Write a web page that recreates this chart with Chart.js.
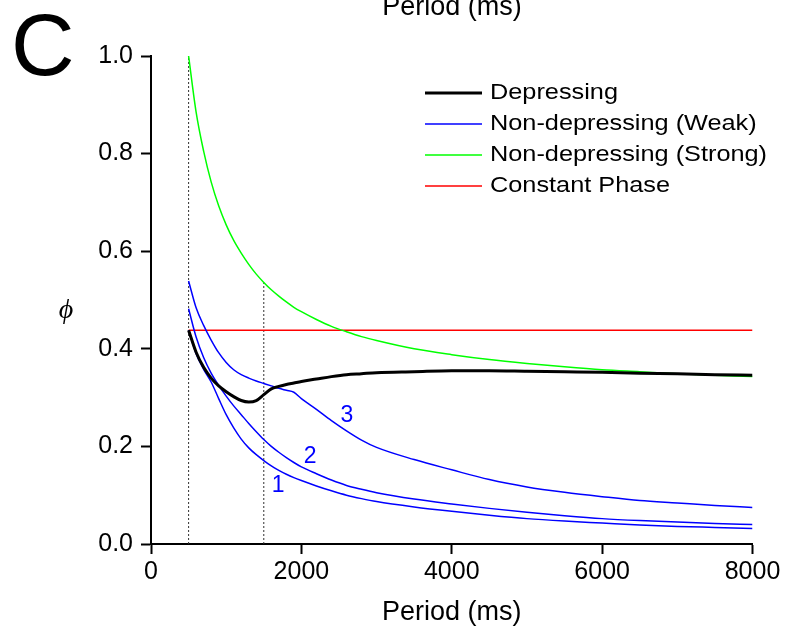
<!DOCTYPE html>
<html>
<head>
<meta charset="utf-8">
<script src="https://cdn.jsdelivr.net/npm/chart.js@4.4.1/dist/chart.umd.min.js"></script>
<style>
  html, body { margin: 0; padding: 0; background: #fff; }
  canvas { display: block; }
</style>
</head>
<body>
<canvas id="phaseChart" width="786" height="635"></canvas>
<script>
// periodos (ms) comunes a las curvas
const periods = [500, 600, 700, 800, 900, 1000, 1100, 1200, 1300, 1400, 1500, 1600, 1700, 1800, 1900,
    2000, 2200, 2400, 2600, 2800, 3000, 3500, 4000, 4500, 5000, 5500, 6000, 6500, 7000, 7500, 8000];

// fase (phi) de cada curva
const depressing = [0.438, 0.393, 0.362, 0.340, 0.324, 0.312, 0.302, 0.294, 0.291, 0.294, 0.306, 0.318, 0.323, 0.327, 0.330,
    0.333, 0.338, 0.343, 0.347, 0.349, 0.351, 0.353, 0.355, 0.355, 0.354, 0.353, 0.352, 0.350, 0.349, 0.347, 0.346];
const weak1 = [0.438, 0.390, 0.358, 0.332, 0.298, 0.265, 0.238, 0.215, 0.197, 0.183, 0.171, 0.160, 0.151, 0.143, 0.136,
    0.130, 0.119, 0.109, 0.100, 0.093, 0.087, 0.076, 0.067, 0.059, 0.052, 0.047, 0.043, 0.039, 0.036, 0.034, 0.032];
const weak2 = [0.482, 0.424, 0.382, 0.350, 0.325, 0.303, 0.283, 0.265, 0.247, 0.230, 0.214, 0.200, 0.188, 0.177, 0.167,
    0.158, 0.144, 0.131, 0.120, 0.112, 0.105, 0.092, 0.082, 0.073, 0.065, 0.058, 0.052, 0.048, 0.045, 0.042, 0.040];
const weak3 = [0.539, 0.484, 0.448, 0.418, 0.392, 0.372, 0.357, 0.347, 0.340, 0.334, 0.329, 0.324, 0.319, 0.315, 0.311,
    0.298, 0.276, 0.253, 0.232, 0.213, 0.198, 0.173, 0.152, 0.132, 0.117, 0.106, 0.097, 0.089, 0.084, 0.079, 0.075];
const strong = [1.000, 0.885, 0.805, 0.742, 0.693, 0.654, 0.622, 0.596, 0.573, 0.553, 0.536, 0.521, 0.508, 0.496, 0.485,
    0.476, 0.460, 0.446, 0.435, 0.425, 0.417, 0.400, 0.388, 0.378, 0.370, 0.363, 0.357, 0.353, 0.349, 0.346, 0.343];

// fase constante
const constantPeriods = [500, 8000];
const constantPhase = [0.438, 0.438];

// lineas punteadas verticales
const guidePeriods = [500, 1500];
const guideTops = [1.0, 0.536];

// ticks de los ejes
const xTicks = [0, 2000, 4000, 6000, 8000];
const yTicks = [0, 0.2, 0.4, 0.6, 0.8, 1.0];

// numeros de las curvas débiles
const curveNames = ['1', '2', '3'];
const namePeriods = [1692, 2118, 2607];
const namePhis = [0.119, 0.178, 0.263];

const toPoints = (xs, ys) => xs.map((x, i) => ({ x: x, y: ys[i] }));

const FONT = '"Liberation Sans", Arial, sans-serif';

// plugin para textos extra y leyenda
const decorPlugin = {
    id: 'decor',
    afterDatasetsDraw(chart) {
        const { ctx, scales: { x, y } } = chart;
        ctx.save();
        // etiquetas 1, 2, 3
        ctx.fillStyle = '#0000ff';
        ctx.font = '23px ' + FONT;
        ctx.textAlign = 'center';
        ctx.textBaseline = 'middle';
        curveNames.forEach((name, i) => {
            ctx.fillText(name, x.getPixelForValue(namePeriods[i]), y.getPixelForValue(namePhis[i]));
        });

        // leyenda
        const items = chart.data.datasets.filter(ds => ds.inLegend);
        items.forEach((ds, i) => {
            const rowY = 93 + i * 31;
            ctx.strokeStyle = ds.borderColor;
            ctx.lineWidth = ds.borderWidth;
            ctx.beginPath();
            ctx.moveTo(425, rowY);
            ctx.lineTo(482, rowY);
            ctx.stroke();
            ctx.save();
            ctx.translate(490, rowY);
            ctx.scale(1.15, 1);
            ctx.fillStyle = '#000';
            ctx.font = '22px ' + FONT;
            ctx.textAlign = 'left';
            ctx.textBaseline = 'middle';
            ctx.fillText(ds.label, 0, 0);
            ctx.restore();
        });
        ctx.restore();
    },
    afterDraw(chart) {
        const { ctx } = chart;
        ctx.save();
        ctx.fillStyle = '#000';
        // letra del panel
        ctx.font = '88px ' + FONT;
        ctx.textAlign = 'left';
        ctx.textBaseline = 'alphabetic';
        ctx.fillText('C', 11, 75);
        // titulo superior cortado
        ctx.font = '27px ' + FONT;
        ctx.textAlign = 'center';
        ctx.fillText('Period (ms)', 452, 15);
        // phi
        ctx.font = 'italic 28px "Liberation Serif", "DejaVu Serif", serif';
        ctx.fillText('ϕ', 66, 318);
        ctx.restore();
    }
};

const axisGrid = {
    drawOnChartArea: false,
    drawTicks: true,
    tickLength: 10,
    tickColor: '#000',
    tickWidth: 2
};

const chart = new Chart(document.getElementById('phaseChart'), {
    type: 'line',
    data: {
        datasets: [
            {
                label: 'Depressing',
                data: toPoints(periods, depressing),
                borderColor: '#000000',
                borderWidth: 3,
                inLegend: true
            },
            {
                label: 'Non-depressing (Weak)',
                data: toPoints(periods, weak1),
                borderColor: '#0000ff',
                borderWidth: 1.5,
                inLegend: true
            },
            {
                label: 'Non-depressing (Weak) 2',
                data: toPoints(periods, weak2),
                borderColor: '#0000ff',
                borderWidth: 1.5
            },
            {
                label: 'Non-depressing (Weak) 3',
                data: toPoints(periods, weak3),
                borderColor: '#0000ff',
                borderWidth: 1.5
            },
            {
                label: 'Non-depressing (Strong)',
                data: toPoints(periods, strong),
                borderColor: '#00ff00',
                borderWidth: 1.5,
                inLegend: true
            },
            {
                label: 'Constant Phase',
                data: toPoints(constantPeriods, constantPhase),
                borderColor: '#ff0000',
                borderWidth: 1.5,
                inLegend: true
            },
            {
                label: 'guide 500',
                data: [{ x: guidePeriods[0], y: 0 }, { x: guidePeriods[0], y: guideTops[0] }],
                borderColor: '#333333',
                borderWidth: 1,
                borderDash: [2, 2],
                cubicInterpolationMode: 'default',
                tension: 0
            },
            {
                label: 'guide 1500',
                data: [{ x: guidePeriods[1], y: 0 }, { x: guidePeriods[1], y: guideTops[1] }],
                borderColor: '#333333',
                borderWidth: 1,
                borderDash: [2, 2],
                cubicInterpolationMode: 'default',
                tension: 0
            }
        ]
    },
    options: {
        responsive: false,
        animation: false,
        events: [],
        elements: {
            point: { radius: 0 },
            line: { cubicInterpolationMode: 'monotone', fill: false }
        },
        layout: {
            padding: { top: 56, right: 33.5, bottom: 0, left: 0 }
        },
        plugins: {
            legend: { display: false },
            tooltip: { enabled: false },
            title: { display: false }
        },
        scales: {
            x: {
                type: 'linear',
                min: 0,
                max: 8000,
                afterBuildTicks: scale => { scale.ticks = xTicks.map(v => ({ value: v })); },
                afterFit: scale => { scale.height = 91; },
                grid: axisGrid,
                border: { display: true, color: '#000', width: 2 },
                ticks: {
                    color: '#000',
                    padding: 3,
                    maxRotation: 0,
                    font: { family: FONT, size: 25 },
                    callback: v => String(v)
                },
                title: {
                    display: true,
                    text: 'Period (ms)',
                    color: '#000',
                    padding: { top: 0, bottom: 6 },
                    font: { family: FONT, size: 27 }
                }
            },
            y: {
                type: 'linear',
                min: 0,
                max: 1,
                afterBuildTicks: scale => { scale.ticks = yTicks.map(v => ({ value: v })); },
                afterFit: scale => { scale.width = 151; },
                grid: axisGrid,
                border: { display: true, color: '#000', width: 2 },
                ticks: {
                    color: '#000',
                    padding: 8,
                    font: { family: FONT, size: 25 },
                    callback: v => Number(v).toFixed(1)
                }
            }
        }
    },
    plugins: [decorPlugin]
});
</script>
</body>
</html>
